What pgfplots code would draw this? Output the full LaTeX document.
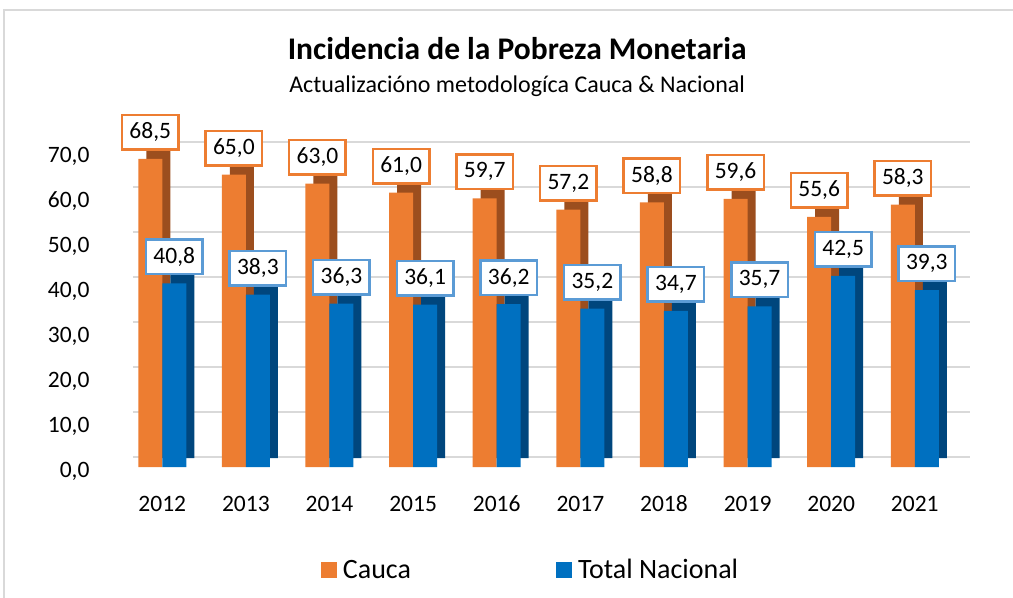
\documentclass[border=0pt]{standalone}
\usepackage{fontspec}
\setmainfont{Carlito}
\usepackage{pgfplots}
\pgfplotsset{compat=1.18}
\definecolor{corange}{HTML}{ED7D31}
\definecolor{cblue}{HTML}{0070C0}
\definecolor{corangeD}{HTML}{9C4E1E}
\definecolor{cblueD}{HTML}{00467D}
\definecolor{cboxblue}{HTML}{5B9BD5}
\definecolor{cgrid}{HTML}{D9D9D9}
\pgfplotstableread{
x cauca nacional
0 68.5 40.8
1 65.0 38.3
2 63.0 36.3
3 61.0 36.1
4 59.7 36.2
5 57.2 35.2
6 58.8 34.7
7 59.6 35.7
8 55.6 42.5
9 58.3 39.3
}\datatable
\begin{document}
\begin{tikzpicture}
\path[use as bounding box] (-133bp,-131bp) rectangle (880bp,467bp);
\draw[cgrid, line width=1.5bp] (-129bp,-140bp) -- (-129bp,457bp) -- (890bp,457bp);
\begin{axis}[
  at={(0,0)}, anchor=south west,
  scale only axis, width=837bp, height=315bp,
  xmin=-0.35, xmax=9.66, ymin=0, ymax=70,
  clip=false,
  ybar, bar width=24bp,
  axis line style={draw=none},
  tick style={draw=none},
  xtick={0,...,9},
  xticklabels={2012,2013,2014,2015,2016,2017,2018,2019,2020,2021},
  ytick={0,10,...,70},
  ymajorgrids,
  major grid style={draw=cgrid, line width=1.8bp, yshift=10bp},
  /pgf/number format/assume math mode=true,
  yticklabel={\pgfmathprintnumber[fixed,fixed zerofill,precision=1,use comma]{\tick}},
  yticklabel style={xshift=-40bp, yshift=-4bp},
  xticklabel style={yshift=-21bp},
  ticklabel style={font=\fontsize{23.5bp}{27bp}\selectfont},
  legend style={draw=none, at={(0.475,-0.327)}, anchor=center,
    legend columns=2, font=\fontsize{28bp}{32bp}\selectfont,
    /tikz/every even column/.append style={column sep=143bp}},
  legend image code/.code={\fill[#1, draw=none] (0bp,-8bp) rectangle (16bp,8bp); \path[draw=none, fill=none] (16bp,0) -- (20bp,0);},
]
\addlegendimage{fill=corange}
\addlegendentry{Cauca}
\addlegendimage{fill=cblue}
\addlegendentry{Total Nacional}
% side faces
\addplot[forget plot, fill=corangeD, draw=none, bar shift=-4bp, yshift=9bp] table[x=x,y=cauca]{\datatable};
\addplot[forget plot, fill=corange, draw=none, bar shift=-12bp,
  nodes near coords={\pgfmathprintnumber[fixed,fixed zerofill,precision=1,use comma]{\pgfplotspointmeta}},
  every node near coord/.append style={font=\fontsize{23.5bp}{27bp}\selectfont, text=black, fill=white, draw=corange, line width=2.5bp, minimum width=56.5bp, minimum height=34.5bp, anchor=south, yshift=8bp}
  ] table[x=x,y=cauca]{\datatable};
\addplot[forget plot, fill=cblueD, draw=none, bar shift=20bp, yshift=9bp] table[x=x,y=nacional]{\datatable};
\addplot[forget plot, fill=cblue, draw=none, bar shift=12bp,
  nodes near coords={\pgfmathprintnumber[fixed,fixed zerofill,precision=1,use comma]{\pgfplotspointmeta}},
  every node near coord/.append style={font=\fontsize{23.5bp}{27bp}\selectfont, text=black, fill=white, draw=cboxblue, line width=2.5bp, minimum width=56.5bp, minimum height=34.5bp, anchor=south, yshift=8bp}
  ] table[x=x,y=nacional]{\datatable};
\node[font=\bfseries\fontsize{31.5bp}{36bp}\selectfont] at (axis description cs:0.459,1.327) {Incidencia de la Pobreza Monetaria};
\node[font=\fontsize{24bp}{28bp}\selectfont] at (axis description cs:0.459,1.21) {Actualizacióno metodologíca Cauca \& Nacional};
\end{axis}
\end{tikzpicture}
\end{document}
